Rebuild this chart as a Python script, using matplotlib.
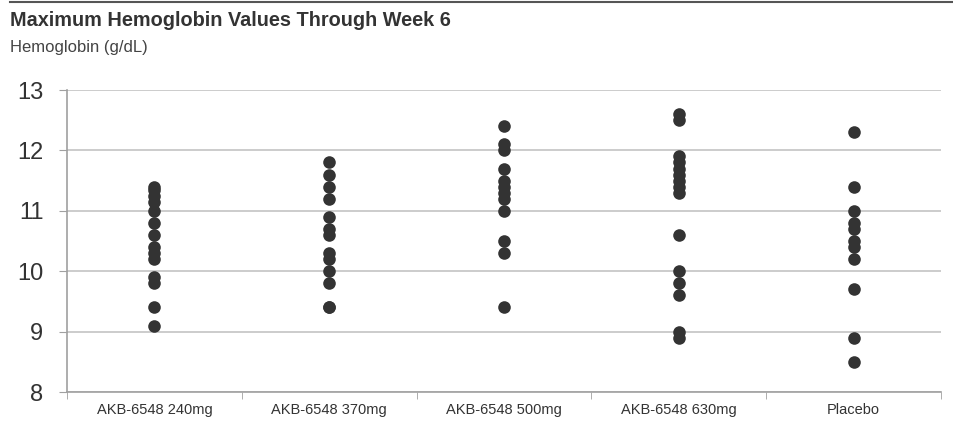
import matplotlib
matplotlib.use("Agg")
import matplotlib.pyplot as plt
from matplotlib.lines import Line2D

plt.rcParams['font.family'] = ['Liberation Sans', 'DejaVu Sans']

groups = ["AKB-6548 240mg", "AKB-6548 370mg", "AKB-6548 500mg", "AKB-6548 630mg", "Placebo"]

hb_240 = [11.4, 11.35, 11.25, 11.15, 11.0, 10.8, 10.6, 10.4, 10.3, 10.2, 9.9, 9.8, 9.4, 9.1]
hb_370 = [11.8, 11.6, 11.4, 11.2, 10.9, 10.7, 10.6, 10.3, 10.2, 10.0, 9.8, 9.4, 9.4]
hb_500 = [12.4, 12.1, 12.0, 11.7, 11.5, 11.4, 11.3, 11.2, 11.0, 10.5, 10.3, 9.4]
hb_630 = [12.6, 12.5, 11.9, 11.8, 11.7, 11.6, 11.5, 11.4, 11.3, 10.6, 10.0, 9.8, 9.6, 9.0, 8.9]
hb_placebo = [12.3, 11.4, 11.0, 10.8, 10.7, 10.5, 10.4, 10.2, 9.7, 8.9, 8.5]

series = [hb_240, hb_370, hb_500, hb_630, hb_placebo]

fig = plt.figure(figsize=(9.54, 4.28), dpi=100)
ax = fig.add_axes([0.0702, 0.0841, 0.9162, 0.7056])

for i, vals in enumerate(series):
    ax.scatter([i] * len(vals), vals, s=82, color="#333333", zorder=3, linewidths=0)

ax.set_xlim(-0.5, len(groups) - 0.5)
ax.set_ylim(8, 13)
ax.set_yticks([8, 9, 10, 11, 12, 13])
ax.yaxis.grid(True, color="#c8c8c8", linewidth=1.3)
ax.set_axisbelow(True)

# category labels centred, tick marks at the boundaries
ax.set_xticks(range(len(groups)))
ax.set_xticklabels(groups, fontsize=10.5, color="#333333")
ax.tick_params(axis="x", which="major", length=0, pad=8)
ax.set_xticks([i - 0.5 for i in range(len(groups) + 1)], minor=True)
ax.tick_params(axis="x", which="minor", length=5, color="#a0a0a0", direction="out")
ax.tick_params(axis="y", length=6, color="#a0a0a0", labelsize=17, labelcolor="#333333", pad=11)

for side in ["top", "right"]:
    ax.spines[side].set_visible(False)
for side in ["left", "bottom"]:
    ax.spines[side].set_color("#a0a0a0")
    ax.spines[side].set_linewidth(1.2)

fig.add_artist(Line2D([0.01, 1.0], [0.995, 0.995], color="#555555", linewidth=1.5))
fig.text(0.0105, 0.953, "Maximum Hemoglobin Values Through Week 6", fontsize=14.3,
         fontweight="bold", color="#333333", va="center")
fig.text(0.0105, 0.89, "Hemoglobin (g/dL)", fontsize=12, color="#444444", va="center")

fig.savefig("out.png", dpi=100)
